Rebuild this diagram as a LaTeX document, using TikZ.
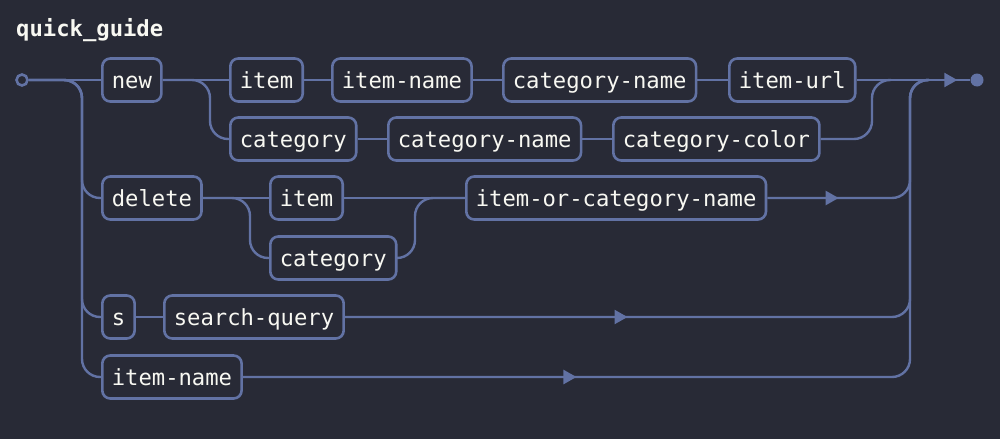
\documentclass[tikz,border=0pt]{standalone}
\usepackage{fontspec}
\setmonofont{DejaVu Sans Mono}
\usetikzlibrary{arrows.meta}
\usetikzlibrary{decorations.markings}
\definecolor{bg}{HTML}{282A36}
\definecolor{rail}{HTML}{6272A4}
\definecolor{ink}{HTML}{F8F8F2}

\begin{document}
\begin{tikzpicture}[
  x=1pt, y=-1pt,
  track/.style = {line width=2.4pt, color=rail, rounded corners=18pt},
  term/.style = {draw=rail, line width=2.6pt, fill=bg, rounded corners=8pt,
    text=ink, font=\ttfamily\fontsize{22.2}{26}\selectfont, anchor=west,
    minimum height=43pt, inner xsep=9.5pt, text height=20pt, text depth=3.4pt},
  flow/.style = {postaction={decorate, decoration={markings,
    mark=at position #1 with {\arrow{Triangle[length=13pt,width=14pt]}}}}},
]

  \fill[bg] (0,0) rectangle (1000,439);
  \useasboundingbox (0,0) rectangle (1000,439);

  \node[anchor=base west, inner sep=0, text=ink,
    font=\ttfamily\bfseries\fontsize{22.2}{26}\selectfont] (title) at (16,36) {quick\_guide};

  % terminals
  \node[term] (new)      at (101,80)  {new};
  \node[term] (item1)    at (229,80)  {item};
  \node[term] (iname1)   at (331,80)  {item-name};
  \node[term] (catname1) at (502,80)  {category-name};
  \node[term] (iurl)     at (728,80)  {item-url};

  \node[term] (cat1)     at (229,139) {category};
  \node[term] (catname2) at (387,139) {category-name};
  \node[term] (catcolor) at (612,139) {category-color};

  \node[term] (delete)   at (101,198) {delete};
  \node[term] (item3)    at (269,198) {item};
  \node[term] (ocname)   at (465,198) {item-or-category-name};
  \node[term] (cat4)     at (269,258) {category};

  \node[term] (s5)       at (101,317) {s};
  \node[term] (query)    at (163,317) {search-query};

  \node[term] (iname6)   at (101,377) {item-name};

  \node[circle, draw=rail, line width=2.6pt, fill=bg, inner sep=0, minimum size=11pt] (start) at (22,80) {};
  \node[circle, fill=rail, inner sep=0, minimum size=13pt] (fin) at (977,80) {};

  \coordinate (cjoin) at (872,80);
  \coordinate (cout)  at (891,80);
  \coordinate (djoin) at (415,198);
  \coordinate (rjoin) at (910,80);
  \coordinate (rout)  at (929,80);

  % rails
  \draw[track] (start) -- (new);
  \foreach \t in {delete,s5,iname6}
    \draw[track] (start.east) -| ([xshift=-19pt]\t.west) -- (\t.west);

  \draw[track] (new) -- (item1);
  \draw[track] (item1) -- (iname1);
  \draw[track] (iname1) -- (catname1);
  \draw[track] (catname1) -- (iurl);
  \draw[track] (iurl) -- (fin);
  \path[track, flow=-13pt] (iurl) -- (fin);

  \draw[track] (new.east) -| ([xshift=-19pt]cat1.west) -- (cat1.west);
  \draw[track] (cat1) -- (catname2);
  \draw[track] (catname2) -- (catcolor);
  \draw[track] (catcolor.east) -| (cjoin) -- (cout);

  \draw[track] (delete) -- (item3);
  \draw[track] (delete.east) -| ([xshift=-19pt]cat4.west) -- (cat4.west);
  \draw[track] (item3) -- (ocname);
  \draw[track] (cat4.east) -| (djoin) -- (ocname.west);

  \draw[track] (s5) -- (query);

  \foreach \t in {ocname,query,iname6} {
    \draw[track] (\t.east) -| (rjoin) -- (rout);
    \path[track, flow=0.5] (\t.east) -- (\t.east -| rjoin);
  }

\end{tikzpicture}
\end{document}
